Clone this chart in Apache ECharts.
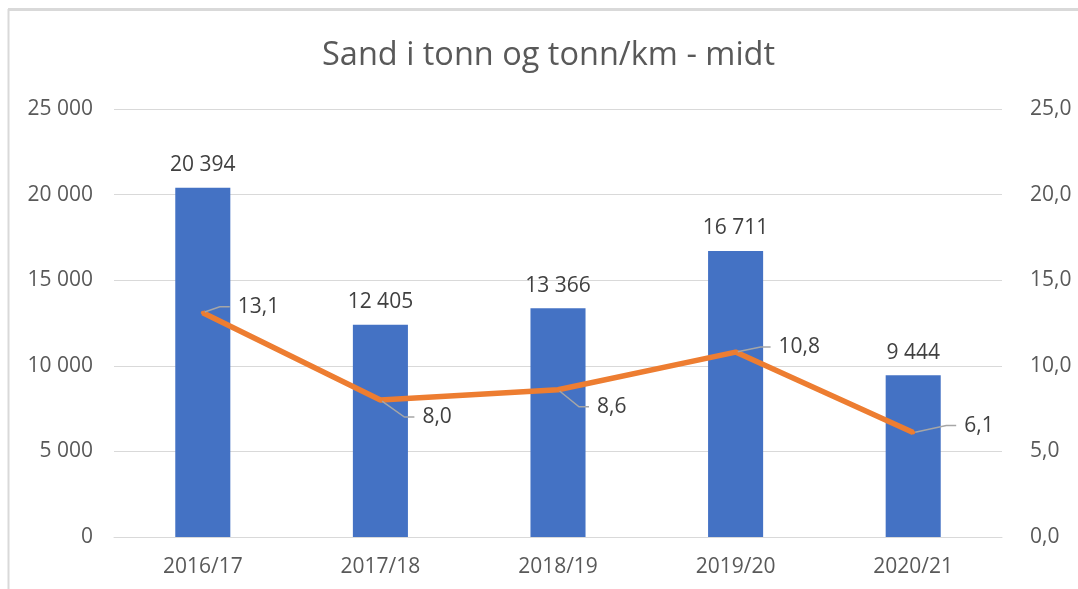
<!DOCTYPE html>
<html>
<head>
<meta charset="utf-8">
<script src="https://cdn.jsdelivr.net/npm/echarts@6/dist/echarts.min.js"></script>
<style>
  html, body { margin: 0; padding: 0; background: #ffffff; }
  #chart { width: 1078px; height: 589px; }
</style>
</head>
<body>
<div id="chart"></div>
<script>
// Seasons on the x axis
const seasons = ['2016/17', '2017/18', '2018/19', '2019/20', '2020/21'];
// Sand spread, tonnes (left axis)
const sandTonnes = [20394, 12405, 13366, 16711, 9444];
// Sand per km, tonnes/km (right axis)
const sandPerKm = [13.1, 8.0, 8.6, 10.8, 6.1];
// Left and right axis ranges
const leftAxis = { min: 0, max: 25000, interval: 5000 };
const rightAxis = { min: 0, max: 25, interval: 5 };

// Offsets of the tonn/km labels from their points (pixels)
const lineLabelShift = [
  { dx: 20, dy: -6 },
  { dx: 27, dy: 17 },
  { dx: 24, dy: 17 },
  { dx: 28, dy: -5 },
  { dx: 36, dy: -7 }
];

const FONT = '"Open Sans", "Liberation Sans", sans-serif';
const GREY = '#595959';
const SIZE = 21;

function thousands(v) {
  return String(Math.round(v)).replace(/\B(?=(\d{3})+(?!\d))/g, ' ');
}
function decimal1(v) {
  return Number(v).toFixed(1).replace('.', ',');
}

const chart = echarts.init(document.getElementById('chart'), null, { renderer: 'canvas' });

chart.setOption({
  backgroundColor: '#ffffff',
  animation: false,
  title: {
    text: 'Sand i tonn og tonn/km - midt',
    left: 317,
    top: 34,
    textStyle: { fontFamily: FONT, fontSize: 32.5, fontWeight: 'normal', color: GREY }
  },
  graphic: [
    { type: 'line', shape: { x1: 8, y1: 9.5, x2: 1078, y2: 9.5 }, style: { stroke: '#d9d9d9', lineWidth: 3 } },
    { type: 'line', shape: { x1: 8.5, y1: 9, x2: 8.5, y2: 589 }, style: { stroke: '#d9d9d9', lineWidth: 2 } }
  ],
  grid: { left: 114, right: 76, top: 109, bottom: 52, containLabel: false },
  xAxis: {
    type: 'category',
    data: seasons,
    axisTick: { show: false },
    axisLine: { show: true, lineStyle: { color: '#d9d9d9', width: 1 } },
    axisLabel: { color: GREY, fontFamily: FONT, fontSize: SIZE, margin: 20 }
  },
  yAxis: [
    {
      type: 'value',
      min: leftAxis.min, max: leftAxis.max, interval: leftAxis.interval,
      axisLine: { show: false },
      axisTick: { show: false },
      splitLine: { lineStyle: { color: '#d9d9d9', width: 1 } },
      axisLabel: { color: GREY, fontFamily: FONT, fontSize: SIZE, margin: 21, formatter: thousands }
    },
    {
      type: 'value',
      min: rightAxis.min, max: rightAxis.max, interval: rightAxis.interval,
      axisLine: { show: false },
      axisTick: { show: false },
      splitLine: { show: false },
      axisLabel: { color: GREY, fontFamily: FONT, fontSize: SIZE, margin: 28, formatter: decimal1 }
    }
  ],
  series: [
    {
      name: 'Sand i tonn',
      type: 'bar',
      yAxisIndex: 0,
      data: sandTonnes,
      barWidth: '31%',
      itemStyle: { color: '#4472C4' },
      label: {
        show: true,
        position: 'top',
        distance: 12,
        color: '#404040',
        fontFamily: FONT,
        fontSize: SIZE,
        formatter: p => thousands(p.value)
      }
    },
    {
      name: 'Tonn/km',
      type: 'line',
      yAxisIndex: 1,
      data: sandPerKm,
      showSymbol: true,
      symbol: 'circle',
      symbolSize: 4,
      lineStyle: { color: '#ED7D31', width: 5.5 },
      itemStyle: { color: '#ED7D31' },
      label: {
        show: true,
        position: 'right',
        distance: 5,
        padding: [0, 2, 0, 8],
        backgroundColor: 'rgba(255,255,255,0)',
        color: '#404040',
        fontFamily: FONT,
        fontSize: SIZE,
        formatter: p => decimal1(p.value)
      },
      labelLine: { show: true, length2: 10, lineStyle: { color: '#a6a6a6', width: 1.5 } },
      labelLayout: p => lineLabelShift[p.dataIndex]
    }
  ]
});
</script>
</body>
</html>
